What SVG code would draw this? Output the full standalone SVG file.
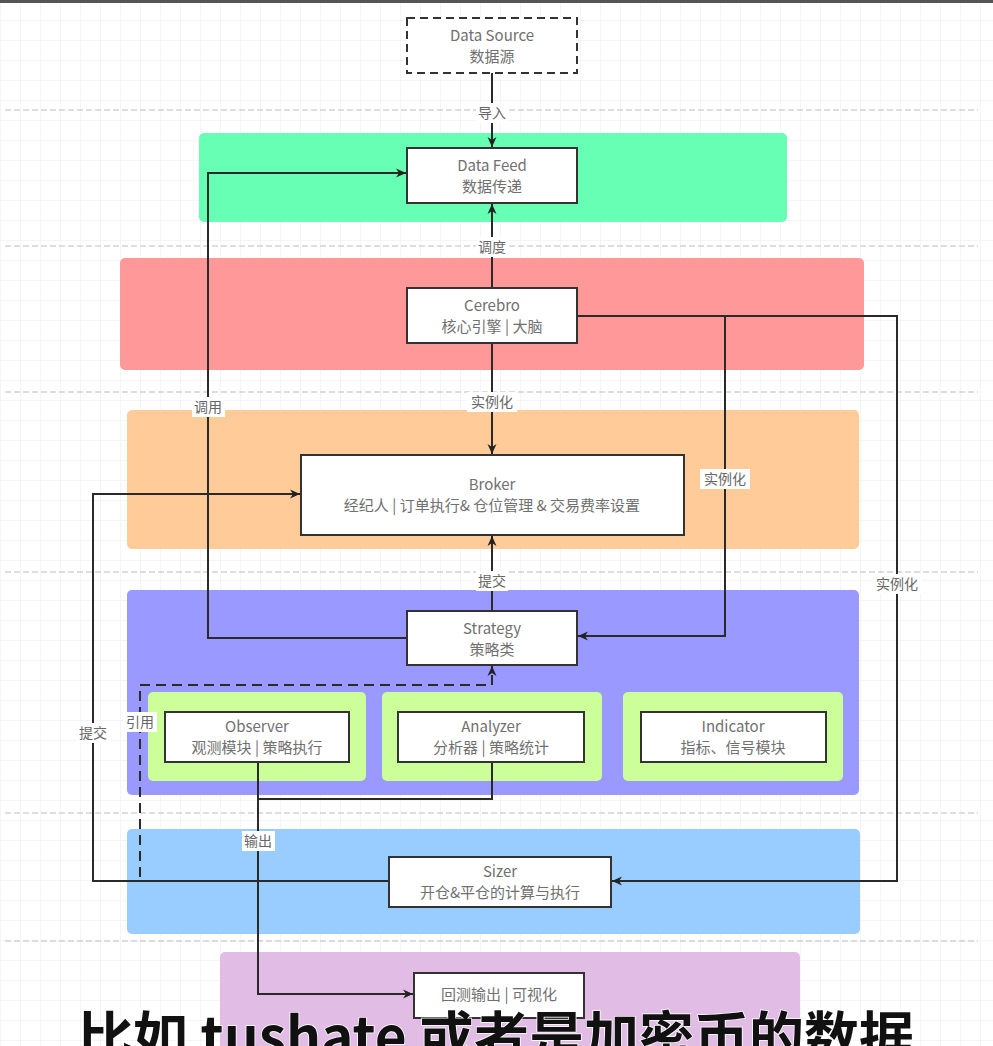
<svg xmlns="http://www.w3.org/2000/svg" width="993" height="1046" viewBox="0 0 993 1046">
<defs>
<pattern id="grid" width="20" height="20" patternUnits="userSpaceOnUse">
<path d="M20 0H0V20" fill="none" stroke="#ececec" stroke-width="1"/>
</pattern>
<marker id="arr" viewBox="0 0 10 10" refX="10" refY="5" markerWidth="10" markerHeight="10" orient="auto" markerUnits="userSpaceOnUse">
<path d="M0 0.5L10 5L0 9.5L3 5Z" fill="#222"/>
</marker>
<style>
.band{stroke:none}
.box{fill:#fff;stroke:#333;stroke-width:2}
.t{font-family:"Noto Sans CJK SC","Liberation Sans",sans-serif;font-size:15px;fill:#707070;text-anchor:middle}
.lbl{font-family:"Noto Sans CJK SC","Liberation Sans",sans-serif;font-size:14px;fill:#666;text-anchor:middle}
.lb{fill:#fff}
.sep{stroke:#bdbdbd;stroke-width:1.2;stroke-dasharray:6 3;fill:none}
.c{fill:none;stroke:#2a2a2a;stroke-width:2}
.cap{font-family:"Noto Sans CJK SC",sans-serif;font-size:55px;font-weight:bold;fill:#111;stroke:#fff;stroke-width:1.5;paint-order:stroke}
</style>
</defs>
<rect width="993" height="1046" fill="#fff"/>
<rect width="993" height="1046" fill="url(#grid)"/>
<rect x="0" y="0" width="993" height="3" fill="#555"/>

<g id="separators">
<line class="sep" x1="5" y1="110" x2="978" y2="110"/>
<line class="sep" x1="5" y1="246" x2="978" y2="246"/>
<line class="sep" x1="5" y1="392" x2="978" y2="392"/>
<line class="sep" x1="5" y1="572" x2="978" y2="572"/>
<line class="sep" x1="5" y1="813" x2="978" y2="813"/>
<line class="sep" x1="5" y1="941" x2="978" y2="941"/>
</g>

<g id="bands">
<rect class="band" x="199" y="133" width="588" height="89" rx="5" fill="#66ffb3"/>
<rect class="band" x="120" y="258" width="744" height="112" rx="5" fill="#ff9999"/>
<rect class="band" x="127" y="410" width="732" height="139" rx="5" fill="#ffcc99"/>
<rect class="band" x="127" y="590" width="732" height="205" rx="5" fill="#9999ff"/>
<rect class="band" x="148" y="692" width="218" height="89" rx="5" fill="#ccff99"/>
<rect class="band" x="382" y="692" width="220" height="89" rx="5" fill="#ccff99"/>
<rect class="band" x="623" y="692" width="220" height="89" rx="5" fill="#ccff99"/>
<rect class="band" x="127" y="829" width="733" height="105" rx="5" fill="#99ccff"/>
<rect class="band" x="220" y="952" width="580" height="100" rx="5" fill="#e1bde6"/>
</g>

<g id="connectors">
<path class="c" d="M492 73V147" marker-end="url(#arr)"/>
<path class="c" d="M492 288V204" marker-end="url(#arr)"/>
<path class="c" d="M492 343V454" marker-end="url(#arr)"/>
<path class="c" d="M492 611V536" marker-end="url(#arr)"/>
<path class="c" d="M407 638H208V173H406" marker-end="url(#arr)"/>
<path class="c" d="M577 316H725V636H578" marker-end="url(#arr)"/>
<path class="c" d="M725 316H897V881H612" marker-end="url(#arr)"/>
<path class="c" d="M389 881H93V494H300" marker-end="url(#arr)"/>
<path class="c" d="M140 877V685H492V666" stroke="#2a2a55" stroke-dasharray="10 6" marker-end="url(#arr)"/>
<path class="c" d="M492 762V799H258"/>
<path class="c" d="M258 762V994H413" marker-end="url(#arr)"/>
<g id="labels">
<rect class="lb" x="476" y="103" width="32" height="20"/><text class="lbl" x="492" y="118">导入</text>
<rect class="lb" x="476" y="237" width="32" height="20"/><text class="lbl" x="492" y="252">调度</text>
<rect class="lb" x="467" y="392" width="50" height="20"/><text class="lbl" x="492" y="407">实例化</text>
<rect class="lb" x="476" y="571" width="32" height="20"/><text class="lbl" x="492" y="586">提交</text>
<rect class="lb" x="192" y="397" width="33" height="20"/><text class="lbl" x="208" y="412">调用</text>
<rect class="lb" x="700" y="469" width="50" height="20"/><text class="lbl" x="725" y="484">实例化</text>
<rect class="lb" x="872" y="574" width="50" height="20"/><text class="lbl" x="897" y="589">实例化</text>
<rect class="lb" x="77" y="723" width="33" height="20"/><text class="lbl" x="93" y="738">提交</text>
<rect class="lb" x="124" y="712" width="33" height="20"/><text class="lbl" x="140" y="727">引用</text>
<rect class="lb" x="242" y="831" width="33" height="20"/><text class="lbl" x="258" y="846">输出</text>
</g>
</g>

<g id="datasource">
<rect x="407" y="18" width="170" height="55" fill="#fff" stroke="#333" stroke-width="2" stroke-dasharray="8 5"/>
<text class="t" x="492" y="41">Data Source</text>
<text class="t" x="492" y="62">数据源</text>
</g>
<g id="datafeed">
<rect class="box" x="407" y="148" width="170" height="55"/>
<text class="t" x="492" y="171">Data Feed</text>
<text class="t" x="492" y="192">数据传递</text>
</g>
<g id="cerebro">
<rect class="box" x="407" y="288" width="170" height="55"/>
<text class="t" x="492" y="311">Cerebro</text>
<text class="t" x="492" y="332">核心引擎 | 大脑</text>
</g>
<g id="broker">
<rect class="box" x="301" y="455" width="383" height="80"/>
<text class="t" x="492" y="490">Broker</text>
<text class="t" x="492" y="511">经纪人 | 订单执行&amp; 仓位管理 &amp; 交易费率设置</text>
</g>
<g id="strategy">
<rect class="box" x="407" y="611" width="170" height="54"/>
<text class="t" x="492" y="634">Strategy</text>
<text class="t" x="492" y="655">策略类</text>
</g>
<g id="observer">
<rect class="box" x="165" y="712" width="184" height="50"/>
<text class="t" x="257" y="732">Observer</text>
<text class="t" x="257" y="753">观测模块 | 策略执行</text>
</g>
<g id="analyzer">
<rect class="box" x="398" y="712" width="186" height="50"/>
<text class="t" x="491" y="732">Analyzer</text>
<text class="t" x="491" y="753">分析器 | 策略统计</text>
</g>
<g id="indicator">
<rect class="box" x="641" y="712" width="185" height="50"/>
<text class="t" x="733" y="732">Indicator</text>
<text class="t" x="733" y="753">指标、信号模块</text>
</g>
<g id="sizer">
<rect class="box" x="389" y="857" width="222" height="50"/>
<text class="t" x="500" y="877">Sizer</text>
<text class="t" x="500" y="898">开仓&amp;平仓的计算与执行</text>
</g>
<g id="output">
<rect class="box" x="414" y="973" width="170" height="45"/>
<text class="t" x="499" y="1000">回测输出 | 可视化</text>
</g>

<text class="cap" x="78" y="1057">比如 tushate 或者是加密币的数据</text>
</svg>
